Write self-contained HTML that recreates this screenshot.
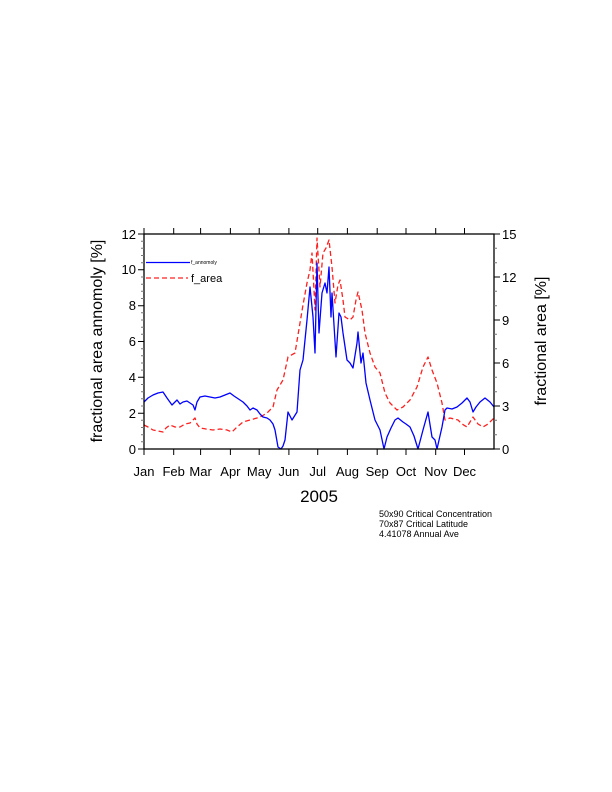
<!DOCTYPE html>
<html><head><meta charset="utf-8"><style>
html,body{margin:0;padding:0;background:#fff}
svg{display:block;font-family:"Liberation Sans",sans-serif}
</style></head><body>
<svg width="612" height="792" viewBox="0 0 612 792" xmlns="http://www.w3.org/2000/svg">
<g fill="none" stroke-linejoin="round">
<polyline stroke="#ff2020" stroke-width="1.3" stroke-dasharray="5,3" points="144,425 148,427 153,430 158,431 163,432 166,428 170,425 175,427 180,427 185,424 190,423 195,418 197,424 200,428 206,429 213,430 220,429 227,430 232,432 237,427 243,422 250,420 257,418 262,416 267,413 273,407 277,390 283,380 288,357 295,353 300,323 303,305 307,283 310,270 312,253 314,290 315,310 317,238 320,287 323,253 326,248 329,240 332,267 335,303 338,285 340,280 343,300 345,317 350,320 353,317 356,300 358,292 362,310 365,333 370,353 375,367 380,373 385,393 390,403 397,410 403,407 410,400 417,387 423,367 428,357 432,370 437,383 442,403 445,420 450,418 458,420 462,424 467,427 473,417 478,424 483,427 488,424 494,418"/>
<polyline stroke="#0000ff" stroke-width="1.3" points="144,402 148,398 153,395 158,393 163,392 167,398 172,405 177,400 180,404 183,402 187,401 190,403 193,405 195,410 197,402 200,397 205,396 210,397 215,398 220,397 225,395 230,393 234,396 237,398 240,400 243,402 247,406 250,410 253,408 257,410 260,414 263,417 267,418 270,420 273,424 275,430 278,447 281,449 283,446 285,440 288,412 292,420 297,412 300,370 303,360 307,320 310,287 313,317 315,353 317,263 319,333 322,293 325,283 327,293 329,267 331,317 332,293 336,357 339,313 341,317 343,333 347,360 350,363 353,368 357,343 358,332 361,363 363,353 366,383 370,400 375,420 380,430 384,449 387,437 391,428 395,420 398,418 403,422 406,424 410,427 414,436 418,449 423,430 428,412 432,437 435,440 437,449 442,427 445,410 447,408 452,409 457,407 462,403 467,398 470,402 473,412 476,407 480,402 485,398 490,402 494,407"/>
<line x1="146" y1="262.5" x2="190" y2="262.5" stroke="#0000ff" stroke-width="1.3"/>
<line x1="146" y1="278" x2="188" y2="278" stroke="#ff2020" stroke-width="1.3" stroke-dasharray="5,3"/>
</g>
<text x="191" y="264" font-size="5">f_annomoly</text>
<text x="191" y="282" font-size="11">f_area</text>
<rect x="144" y="234" width="350" height="215" fill="none" stroke="#000" stroke-width="1.3"/>
<g stroke="#000" stroke-width="1">
<!-- left major -->
<path d="M144 449h-6M144 413.2h-6M144 377.3h-6M144 341.5h-6M144 305.7h-6M144 269.8h-6M144 234h-6"/>
<path stroke="#777" d="M144 441.8h-3M144 434.7h-3M144 427.5h-3M144 420.3h-3M144 406h-3M144 398.8h-3M144 391.7h-3M144 384.5h-3M144 370.1h-3M144 363h-3M144 355.8h-3M144 348.7h-3M144 334.3h-3M144 327.2h-3M144 320h-3M144 312.8h-3M144 298.5h-3M144 291.3h-3M144 284.2h-3M144 277h-3M144 262.7h-3M144 255.5h-3M144 248.3h-3M144 241.2h-3"/>
<!-- right -->
<path d="M494 449h6M494 406h6M494 363h6M494 320h6M494 277h6M494 234h6"/>
<path stroke="#777" d="M494 434.7h3M494 420.3h3M494 391.7h3M494 377.3h3M494 348.7h3M494 334.3h3M494 305.7h3M494 291.3h3M494 262.7h3M494 248.3h3"/>
<!-- bottom/top month ticks -->
<path d="M144 449v6M173.7 449v6M200.6 449v6M230.4 449v6M259.2 449v6M288.9 449v6M317.7 449v6M347.4 449v6M377.2 449v6M406 449v6M435.7 449v6M464.5 449v6M144 234v-6M173.7 234v-6M200.6 234v-6M230.4 234v-6M259.2 234v-6M288.9 234v-6M317.7 234v-6M347.4 234v-6M377.2 234v-6M406 234v-6M435.7 234v-6M464.5 234v-6"/>
</g>
<g font-size="13" text-anchor="end">
<text x="136" y="454">0</text><text x="136" y="418">2</text><text x="136" y="382">4</text><text x="136" y="346">6</text><text x="136" y="310">8</text><text x="136" y="274">10</text><text x="136" y="239">12</text>
</g>
<g font-size="13">
<text x="502" y="454">0</text><text x="502" y="411">3</text><text x="502" y="368">6</text><text x="502" y="325">9</text><text x="502" y="282">12</text><text x="502" y="239">15</text>
</g>
<g font-size="13" text-anchor="middle">
<text x="144" y="476">Jan</text><text x="173.7" y="476">Feb</text><text x="200.6" y="476">Mar</text><text x="230.4" y="476">Apr</text><text x="259.2" y="476">May</text><text x="288.9" y="476">Jun</text><text x="317.7" y="476">Jul</text><text x="347.4" y="476">Aug</text><text x="377.2" y="476">Sep</text><text x="406" y="476">Oct</text><text x="435.7" y="476">Nov</text><text x="464.5" y="476">Dec</text>
</g>
<text x="319" y="502" font-size="17" text-anchor="middle">2005</text>
<text transform="translate(102,341) rotate(-90)" font-size="16" text-anchor="middle">fractional area annomoly [%]</text>
<text transform="translate(546,341) rotate(-90)" font-size="16" text-anchor="middle">fractional area [%]</text>
<g font-size="9">
<text x="379" y="517">50x90 Critical Concentration</text>
<text x="379" y="527">70x87 Critical Latitude</text>
<text x="379" y="537">4.41078 Annual Ave</text>
</g>
</svg>
</body></html>
